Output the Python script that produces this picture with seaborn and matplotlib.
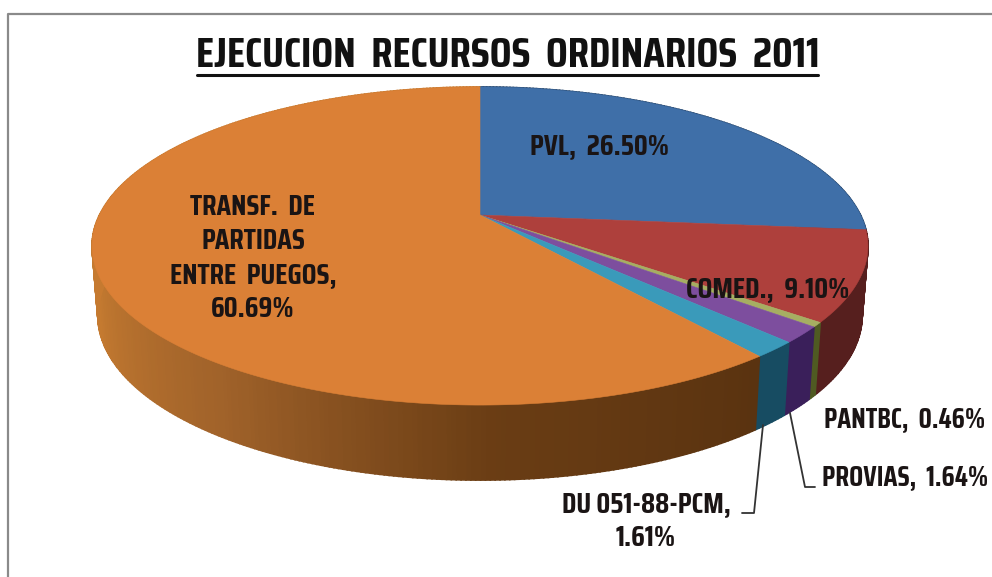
import numpy as np
import matplotlib
matplotlib.use('Agg')
import matplotlib.pyplot as plt
import seaborn as sns

# Data
categories = ['PVL', 'COMED.', 'PANTBC', 'PROVIAS', 'DU 051-88-PCM', 'TRANSF. DE PARTIDAS ENTRE PUEGOS']
shares = [26.50, 9.10, 0.46, 1.64, 1.61, 60.69]

top_colors = ['#3F6FA8', '#AE403C', '#A6AE62', '#7D4E9E', '#3A9ABA', '#DB8036']
wall_colors = ['#2A4A70', '#561F1E', '#4F5A22', '#3A1F5A', '#174C62', None]
orange_wall = ['#5A3310', '#6A3D14', '#A0622A', '#C47A30', '#C97B30', '#C97B30', '#C97B30']

sns.set_theme(style='white')
plt.rcParams['font.family'] = ['Saira Condensed', 'Roboto', 'DejaVu Sans']
plt.rcParams['font.weight'] = 'bold'

fig, ax = plt.subplots(figsize=(9.92, 5.77), dpi=100)
fig.subplots_adjust(left=0, right=1, top=1, bottom=0)
ax.set_xlim(0, 992)
ax.set_ylim(577, 0)
ax.axis('off')

# Perspective of the tilted disc, in pixels
cx, cy, rx, ry, k = 480, 215, 380.5, 153, 0.195


def project(theta):
    u, v = np.sin(theta), np.cos(theta)
    w = 1 + k * v
    return cx + rx * u / w, cy - ry * v / w


def project_bottom(theta):
    x, y = project(theta)
    v = np.cos(theta)
    return cx + (x - cx) * 0.985, y + 68 + 7 * np.maximum(-v, 0)


edges = np.radians(np.concatenate([[0], np.cumsum(shares)]) * 3.6)

# Side wall first, the top surface covers what is hidden
for i in range(len(shares)):
    n = max(int(shares[i] * 6), 3)
    thetas = np.linspace(edges[i], edges[i + 1], n + 1)
    if wall_colors[i] is None:
        shades = sns.blend_palette(orange_wall, n)
    else:
        shades = [wall_colors[i]] * n
    for j in range(n):
        a = thetas[j:j + 2]
        xt, yt = project(a)
        xb, yb = project_bottom(a)
        ax.fill(np.r_[xt, xb[::-1]], np.r_[yt, yb[::-1]], color=shades[j], lw=1.2, zorder=2)

# Top surface
palette = sns.color_palette(top_colors)
for i in range(len(shares)):
    thetas = np.linspace(edges[i], edges[i + 1], max(int(shares[i] * 4), 6))
    xs, ys = project(thetas)
    ax.fill(np.r_[cx, xs], np.r_[cy, ys], color=palette[i], lw=0.4, zorder=3)

# Title and underline
ax.text(508, 55, 'EJECUCION  RECURSOS  ORDINARIOS  2011', fontsize=31, ha='center', va='center',
        color='#111111', zorder=5)
ax.plot([197, 818], [74.5, 74.5], color='#111111', lw=2.2, zorder=5)

# Labels
label_kw = dict(fontsize=21, va='center', color='#1a1414', zorder=5, linespacing=1.26)
ax.text(599, 146, 'PVL,  26.50%', ha='center', **label_kw)
ax.text(253, 258, 'TRANSF.  DE\nPARTIDAS\nENTRE  PUEGOS,\n60.69%', ha='center', **label_kw)
ax.text(768, 289, 'COMED.,  9.10%', ha='center', **label_kw)
side_kw = dict(label_kw, fontsize=20)
ax.text(824, 419, 'PANTBC,  0.46%', ha='left', **side_kw)
ax.text(822, 477, 'PROVIAS,  1.64%', ha='left', **side_kw)
ax.text(646, 521, 'DU 051-88-PCM,\n1.61%', ha='center', **label_kw)

# Leader lines
ax.plot([763, 754, 742], [425, 513, 513], color='#333333', lw=1.3, zorder=4)
ax.plot([790, 805, 815], [413, 487, 487], color='#333333', lw=1.3, zorder=4)

# Chart frame
ax.plot([8, 8, 992], [577, 14, 14], color='#8a8a8a', lw=1.6, zorder=1)

plt.savefig('out.png', dpi=100)
